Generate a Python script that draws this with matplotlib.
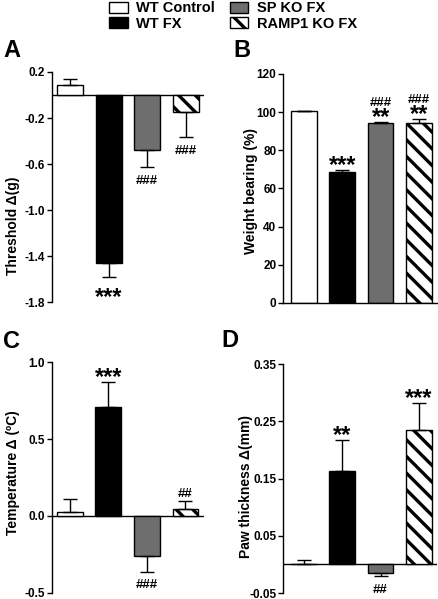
import numpy as np
import matplotlib
matplotlib.use("Agg")
import matplotlib.pyplot as plt

plt.rcParams['font.family'] = ['Liberation Sans', 'DejaVu Sans']
plt.rcParams['font.weight'] = 'bold'
plt.rcParams['hatch.linewidth'] = 2.4
plt.rcParams['axes.linewidth'] = 1.0

# groups and styles
groups = ['WT Control', 'WT FX', 'SP KO FX', 'RAMP1 KO FX']
colors = ['white', 'black', '#6e6e6e', 'white']
hatches = ['', '', '', '\\\\']

# A: mechanical threshold change (g)
thr_mean = [0.087, -1.458, -0.478, -0.151]
thr_sem = [0.050, 0.127, 0.151, 0.217]
thr_stars = ['', '***', '', '']
thr_hash = ['', '', '###', '###']

# B: weight bearing (%)
wb_mean = [100.5, 68.4, 94.2, 94.5]
wb_sem = [0.3, 1.3, 0.8, 1.8]
wb_stars = ['', '***', '**', '**']
wb_hash = ['', '', '###', '###']

# C: temperature change (C)
temp_mean = [0.024, 0.708, -0.259, 0.044]
temp_sem = [0.085, 0.165, 0.104, 0.052]
temp_stars = ['', '***', '', '']
temp_hash = ['', '', '###', '##']

# D: paw thickness change (mm)
paw_mean = [0.001, 0.1635, -0.0153, 0.2347]
paw_sem = [0.007, 0.054, 0.005, 0.047]
paw_stars = ['', '**', '', '***']
paw_hash = ['', '', '##', '']

fig = plt.figure(figsize=(4.39, 5.99), dpi=100)

axA = fig.add_axes([0.1185, 0.4958, 0.346, 0.384])
axB = fig.add_axes([0.6453, 0.4942, 0.350, 0.3823])
axC = fig.add_axes([0.1178, 0.0105, 0.346, 0.3846])
axD = fig.add_axes([0.6453, 0.0100, 0.350, 0.3823])


def draw_panel(ax, mean, sem, stars, hashes, xlim, zero_line=True):
    x = np.arange(len(mean))
    mean = np.array(mean)
    sem = np.array(sem)
    bars = ax.bar(x, mean, width=0.67, color=colors, edgecolor='black',
                  linewidth=1.0, hatch=hatches, zorder=2)
    lower = np.where(mean < 0, sem, 0)
    upper = np.where(mean >= 0, sem, 0)
    ax.errorbar(x, mean, yerr=[lower, upper], fmt='none', ecolor='black',
                elinewidth=1.0, capsize=5, capthick=1.0, zorder=3)
    for i in range(len(mean)):
        up = mean[i] >= 0
        tip = mean[i] + sem[i] if up else mean[i] - sem[i]
        if up:
            if stars[i]:
                ax.annotate(stars[i], (x[i], tip), xytext=(0, -1.6),
                            textcoords='offset points', ha='center',
                            va='baseline', fontsize=17, fontweight='bold')
            if hashes[i]:
                off = 11.5 if stars[i] else 3.2
                ax.annotate(hashes[i], (x[i], tip), xytext=(0, off),
                            textcoords='offset points', ha='center',
                            va='baseline', fontsize=9.5, fontweight='bold')
        else:
            if stars[i]:
                ax.annotate(stars[i], (x[i], tip), xytext=(0, -19),
                            textcoords='offset points', ha='center',
                            va='baseline', fontsize=17, fontweight='bold')
            if hashes[i]:
                ax.annotate(hashes[i], (x[i], tip), xytext=(0, -12),
                            textcoords='offset points', ha='center',
                            va='baseline', fontsize=9.5, fontweight='bold')
    ax.set_xlim(*xlim)
    ax.set_xticks([])
    for s in ['top', 'right']:
        ax.spines[s].set_visible(False)
    if zero_line:
        ax.spines['bottom'].set_visible(False)
        ax.axhline(0, color='black', linewidth=1.0, zorder=1)
    ax.tick_params(axis='y', direction='out', length=3.5, width=1.0,
                   labelsize=8.5, pad=1.5)
    return bars


barsA = draw_panel(axA, thr_mean, thr_sem, thr_stars, thr_hash, (-0.47, 3.47))
axA.set_ylim(-1.8, 0.2)
axA.set_yticks([0.2, -0.2, -0.6, -1.0, -1.4, -1.8])
axA.set_yticklabels(['0.2', '-0.2', '-0.6', '-1.0', '-1.4', '-1.8'], fontweight='bold')
axA.set_ylabel('Threshold Δ(g)', fontsize=10, fontweight='bold')
axA.yaxis.set_label_coords(-0.21, 0.33)

draw_panel(axB, wb_mean, wb_sem, wb_stars, wb_hash, (-0.54, 3.47), zero_line=False)
axB.set_ylim(0, 120)
axB.set_yticks([0, 20, 40, 60, 80, 100, 120])
axB.set_yticklabels(['0', '20', '40', '60', '80', '100', '120'], fontweight='bold')
axB.set_ylabel('Weight bearing (%)', fontsize=10, fontweight='bold')
axB.yaxis.set_label_coords(-0.165, 0.487)

draw_panel(axC, temp_mean, temp_sem, temp_stars, temp_hash, (-0.47, 3.47))
axC.set_ylim(-0.5, 1.0)
axC.set_yticks([-0.5, 0.0, 0.5, 1.0])
axC.set_yticklabels(['-0.5', '0.0', '0.5', '1.0'], fontweight='bold')
axC.set_ylabel('Temperature Δ (ºC)', fontsize=10, fontweight='bold')
axC.yaxis.set_label_coords(-0.21, 0.52)

draw_panel(axD, paw_mean, paw_sem, paw_stars, paw_hash, (-0.54, 3.47))
axD.set_ylim(-0.05, 0.35)
axD.set_yticks([-0.05, 0.05, 0.15, 0.25, 0.35])
axD.set_yticklabels(['-0.05', '0.05', '0.15', '0.25', '0.35'], fontweight='bold')
axD.set_ylabel('Paw thickness Δ(mm)', fontsize=10, fontweight='bold')
axD.yaxis.set_label_coords(-0.197, 0.467)

# panel letters
for letter, px, py in [('A', 3, 57), ('B', 233, 57), ('C', 3, 348), ('D', 221, 347)]:
    fig.text(px / 439, 1 - py / 599, letter, fontsize=17, fontweight='bold',
             ha='left', va='baseline')

# legend
fig.legend(barsA.patches, groups, ncol=2, loc='upper left',
           bbox_to_anchor=(108 / 439, 1.0), frameon=False,
           prop={'weight': 'bold', 'size': 10.5},
           handlelength=1.25, handleheight=0.8, handletextpad=0.6,
           columnspacing=1.0, labelspacing=0.1, borderaxespad=0, borderpad=0.1)

fig.savefig('out.png', dpi=100)
